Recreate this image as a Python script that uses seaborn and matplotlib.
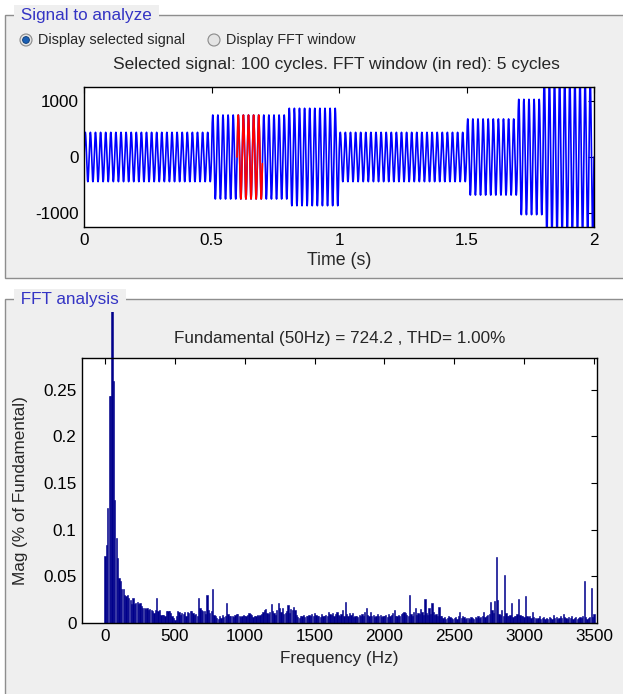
"""Signal / FFT analysis panel, redrawn with seaborn."""
import numpy as np
import seaborn as sns
import matplotlib.pyplot as plt
from matplotlib.patches import Rectangle, Circle
from matplotlib.transforms import Bbox, TransformedBbox

# --- selected signal: segments of a 50 Hz wave (start, end in s, peak value)
seg_start = [0.0, 0.5, 0.8, 1.0, 1.5, 1.7, 1.8]
seg_end = [0.5, 0.8, 1.0, 1.5, 1.7, 1.8, 2.0]
seg_amp = [440, 750, 870, 440, 680, 1030, 1400]
f0 = 50
fft_window = (0.6, 0.7)

# --- FFT magnitude (% of fundamental), one bar per 10 Hz, 0..3500 Hz
mag_0 = [0.072, 0.084, 0.123, 0.243, 0.243, 100.0, 0.259, 0.132, 0.091, 0.070,
         0.048, 0.045, 0.036, 0.036, 0.030, 0.029, 0.030, 0.027, 0.025, 0.020,
         0.027, 0.020, 0.021, 0.022, 0.020, 0.021, 0.018, 0.016, 0.016, 0.015,
         0.016, 0.014, 0.015, 0.014, 0.0125, 0.0107, 0.014, 0.027, 0.0125, 0.014,
         0.009, 0.009, 0.009, 0.007, 0.0125, 0.013, 0.0125, 0.011, 0.007, 0.005]
mag_500 = [0.0036, 0.007, 0.0125, 0.012, 0.009, 0.011, 0.010, 0.012, 0.007, 0.012,
           0.011, 0.0125, 0.013, 0.011, 0.009, 0.010, 0.007, 0.027, 0.016, 0.014,
           0.0125, 0.0125, 0.010, 0.030, 0.014, 0.011, 0.0125, 0.036, 0.009, 0.007,
           0.005, 0.004, 0.007, 0.005, 0.009, 0.006, 0.008, 0.021, 0.010, 0.007,
           0.007, 0.008, 0.006, 0.009, 0.010, 0.010, 0.008, 0.006, 0.007, 0.009]
mag_1000 = [0.008, 0.007, 0.009, 0.011, 0.010, 0.009, 0.006, 0.007, 0.008, 0.009,
            0.007, 0.009, 0.010, 0.012, 0.014, 0.015, 0.011, 0.010, 0.012, 0.020,
            0.013, 0.011, 0.009, 0.014, 0.021, 0.016, 0.012, 0.016, 0.010, 0.011,
            0.013, 0.019, 0.011, 0.015, 0.014, 0.017, 0.014, 0.009, 0.006, 0.005,
            0.008, 0.007, 0.009, 0.006, 0.008, 0.007, 0.009, 0.008, 0.010, 0.007]
mag_1500 = [0.011, 0.009, 0.007, 0.008, 0.006, 0.010, 0.008, 0.007, 0.009, 0.008,
            0.012, 0.010, 0.009, 0.011, 0.008, 0.010, 0.012, 0.009, 0.007, 0.010,
            0.014, 0.008, 0.022, 0.010, 0.007, 0.011, 0.009, 0.011, 0.006, 0.007,
            0.008, 0.006, 0.009, 0.007, 0.010, 0.008, 0.012, 0.016, 0.009, 0.008,
            0.012, 0.007, 0.009, 0.006, 0.008, 0.010, 0.007, 0.009, 0.006, 0.008]
mag_2000 = [0.007, 0.009, 0.006, 0.010, 0.008, 0.009, 0.011, 0.014, 0.008, 0.007,
            0.009, 0.008, 0.010, 0.011, 0.012, 0.011, 0.009, 0.008, 0.030, 0.010,
            0.008, 0.012, 0.016, 0.009, 0.011, 0.010, 0.015, 0.012, 0.009, 0.026,
            0.011, 0.009, 0.016, 0.010, 0.021, 0.012, 0.009, 0.010, 0.008, 0.017,
            0.008, 0.007, 0.005, 0.006, 0.004, 0.005, 0.007, 0.006, 0.005, 0.004]
mag_2500 = [0.005, 0.006, 0.004, 0.007, 0.012, 0.005, 0.008, 0.006, 0.004, 0.005,
            0.005, 0.004, 0.006, 0.005, 0.004, 0.006, 0.005, 0.007, 0.005, 0.006,
            0.008, 0.012, 0.006, 0.007, 0.009, 0.010, 0.022, 0.014, 0.011, 0.024,
            0.071, 0.025, 0.010, 0.009, 0.014, 0.008, 0.051, 0.011, 0.008, 0.007,
            0.009, 0.021, 0.006, 0.007, 0.008, 0.010, 0.026, 0.009, 0.007, 0.008]
mag_3000 = [0.006, 0.029, 0.008, 0.006, 0.007, 0.005, 0.012, 0.006, 0.005, 0.004,
            0.005, 0.007, 0.004, 0.005, 0.006, 0.004, 0.005, 0.004, 0.006, 0.005,
            0.004, 0.009, 0.005, 0.006, 0.004, 0.005, 0.007, 0.005, 0.010, 0.006,
            0.005, 0.004, 0.006, 0.005, 0.007, 0.004, 0.005, 0.006, 0.004, 0.005,
            0.006, 0.005, 0.007, 0.045, 0.006, 0.004, 0.005, 0.006, 0.037, 0.006,
            0.010]
mag = mag_0 + mag_500 + mag_1000 + mag_1500 + mag_2000 + mag_2500 + mag_3000
freq = [10 * i for i in range(len(mag))]

W, H = 623, 694
FS = 12.3
sns.set_style("white")
plt.rcParams["font.family"] = ["Liberation Sans", "DejaVu Sans"]
plt.rcParams["axes.unicode_minus"] = False
fig = plt.figure(figsize=(W / 100, H / 100), dpi=100)
fig.patch.set_facecolor("white")


def fig_rect(x0, y0, x1, y1):
    # pixel box (top-left origin) -> figure fraction rect
    return [x0 / W, 1 - y1 / H, (x1 - x0) / W, (y1 - y0) / H]


# background: the two GUI panels, drawn in pixel coordinates
bg = fig.add_axes([0, 0, 1, 1], zorder=-1)
bg.set_xlim(0, W)
bg.set_ylim(H, 0)
bg.axis("off")
panel_bg = "#efefef"
for y0, y1 in [(15, 278), (299, 720)]:
    bg.add_patch(Rectangle((5, y0), 660, y1 - y0, facecolor=panel_bg,
                           edgecolor="#8e8e8e", lw=1))
for x, y, s in [(16, 15, "Signal to analyze"), (16, 299, "FFT analysis")]:
    bg.text(x, y, " " + s + " ", color="#3434c4", fontsize=12.3, va="center",
            ha="left", bbox=dict(fc=panel_bg, ec="none", pad=1.5))

# radio buttons
for cx, label, on in [(26, "Display selected signal", True),
                      (214, "Display FFT window", False)]:
    bg.add_patch(Circle((cx, 40), 6, facecolor="#e4e4e4", edgecolor="#8a8a8a", lw=0.8))
    if on:
        bg.add_patch(Circle((cx, 40), 3.4, facecolor="#1a5fb4", edgecolor="#0b3a75", lw=0.6))
    bg.text(cx + 12, 40, label, fontsize=10.4, va="center", ha="left")

bg.text(336, 64, "Selected signal: 100 cycles. FFT window (in red): 5 cycles",
        fontsize=12.5, ha="center", va="center")

# --- top: time signal
t = np.linspace(0, 2, 100 * 40 + 1)
amp = np.zeros_like(t)
for s, e, a in zip(seg_start, seg_end, seg_amp):
    amp[(t >= s) & (t <= e)] = a
sig = amp * np.sin(2 * np.pi * f0 * t)
win = (t >= fft_window[0]) & (t <= fft_window[1])

ax1 = fig.add_axes(fig_rect(84, 87, 594, 227))
sns.lineplot(x=t, y=sig, color="blue", lw=1.2, estimator=None, sort=False, ax=ax1)
sns.lineplot(x=t[win], y=sig[win], color="red", lw=1.2, estimator=None, sort=False, ax=ax1)
ax1.set_xlim(0, 2)
ax1.set_ylim(-1250, 1250)
ax1.set_xticks([0, 0.5, 1, 1.5, 2])
ax1.set_xticklabels(["0", "0.5", "1", "1.5", "2"])
ax1.set_yticks([-1000, 0, 1000])
ax1.set_xlabel("Time (s)", fontsize=12.8, labelpad=3)

# --- bottom: FFT bars
ax2 = fig.add_axes(fig_rect(82, 358, 597, 623))
sns.barplot(x=freq, y=mag, native_scale=True, color="#00008b", saturation=1,
            errorbar=None, width=0.9, linewidth=0.4, edgecolor="#00008b", ax=ax2)
ax2.set_xlim(-165, 3522)
ax2.set_ylim(0, 0.284)
ax2.set_xticks(range(0, 3501, 500))
ax2.set_xticklabels([str(v) for v in range(0, 3501, 500)])
ax2.set_yticks([0, 0.05, 0.1, 0.15, 0.2, 0.25])
ax2.set_yticklabels(["0", "0.05", "0.1", "0.15", "0.2", "0.25"])
ax2.set_xlabel("Frequency (Hz)", fontsize=FS, labelpad=5)
ax2.set_ylabel("Mag (% of Fundamental)", fontsize=FS, labelpad=11)
ax2.set_title("Fundamental (50Hz) = 724.2 , THD= 1.00%", fontsize=FS, pad=11)

# the fundamental bar runs out of the axes, up to the panel edge
clip = TransformedBbox(Bbox.from_extents(0, 0, 1, 1 - 312 / H), fig.transFigure)
for p in ax2.patches:
    if p.get_height() > 1:
        p.set_clip_box(clip)

for ax in (ax1, ax2):
    ax.set_facecolor("white")
    for sp in ax.spines.values():
        sp.set_visible(True)
        sp.set_color("black")
        sp.set_linewidth(1)
    ax.tick_params(direction="in", length=4, width=0.8, top=True, right=True,
                   labelsize=FS, colors="black", pad=4)

fig.savefig("out.png", dpi=100, facecolor="white")
